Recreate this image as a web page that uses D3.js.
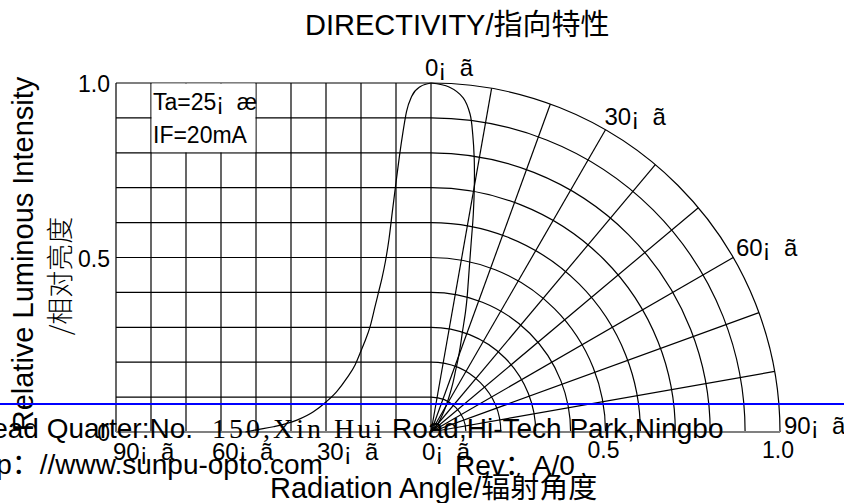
<!DOCTYPE html>
<html>
<head>
<meta charset="utf-8">
<script src="https://cdn.jsdelivr.net/npm/d3@7"></script>
<style>
  html, body { margin: 0; padding: 0; background: #fff; overflow: hidden; }
  svg { display: block; font-family: "Liberation Sans", Arial, "Noto Sans CJK SC", sans-serif; }
</style>
</head>
<body>
<svg id="chart" width="844" height="503"></svg>
<script>
// ---------------- data ----------------
const angleDeg  = [0, 3, 5.5, 7, 8, 9, 10, 11, 12, 13, 14, 15, 16, 17.4, 19, 20.3, 21.7, 24, 27, 30, 33.6, 38.3, 45, 50, 53];
const intensity = [1.0, 0.99, 0.962, 0.918, 0.86, 0.792, 0.715, 0.635, 0.553, 0.49, 0.441, 0.4, 0.359, 0.302, 0.257, 0.225, 0.192, 0.155, 0.115, 0.086, 0.058, 0.034, 0.015, 0.006, 0];
const gridAngles = [0, 10, 20, 30, 40, 50, 60, 70, 80, 90];
const gridRadii  = [0.1, 0.2, 0.3, 0.4, 0.5, 0.6, 0.7, 0.8, 0.9, 1.0];
const yTickValues = [0, 0.5, 1.0];
const yTickLabels = ["0", "0.5", "1.0"];
const rTickValues = [0.5, 1.0];
const rTickLabels = ["0.5", "1.0"];
const polarAngleLabels  = [0, 30, 60, 90];
const bottomAngleLabels = [90, 60, 30, 0];
const degSuffix = "¡\u00a0\u00a0ã";
const titleText = "DIRECTIVITY/指向特性";
const yTitleText = "Relative Luminous Intensity";
const yTitleCnText = "/相对亮度";
const xTitleText = "Radiation Angle/辐射角度";
const noteLines = ["Ta=25¡\u00a0\u00a0æ", "IF=20mA"];
const footerA = "Head Quarter:No.";
const footerB = "150,Xin Hui";
const footerC = "Road,Hi-Tech Park,Ningbo";
const footerD = "http：//www.sunpu-opto.com";
const footerE = "Rev：A/0";

const data = angleDeg.map((a, i) => ({ a: a, v: intensity[i] }));

// ---------------- layout ----------------
const svg = d3.select("#chart");
const ox = 431, oy = 432, R = 349;
const xA = d3.scaleLinear().domain([90, 0]).range([116, ox]);   // left linear angle axis
const yI = d3.scaleLinear().domain([0, 1]).range([oy, oy - R]);  // intensity axis
const rS = d3.scaleLinear().domain([0, 1]).range([0, R]);        // radial scale
const rad = d => d * Math.PI / 180;
const SW = 1.2;

const grid = svg.append("g").attr("fill", "none").attr("stroke", "#000").attr("stroke-width", SW);

// left rectangular grid: horizontal lines
grid.selectAll("line.h").data(gridRadii).join("line")
  .attr("x1", xA(90)).attr("x2", ox)
  .attr("y1", d => yI(d)).attr("y2", d => yI(d));
// vertical lines
grid.selectAll("line.v").data(gridAngles).join("line")
  .attr("x1", d => xA(d)).attr("x2", d => xA(d))
  .attr("y1", yI(0)).attr("y2", yI(1));

// polar arcs
grid.selectAll("path.arc").data(gridRadii).join("path")
  .attr("d", d => { const p = d3.path(); p.moveTo(ox, oy - rS(d)); p.arc(ox, oy, rS(d), -Math.PI / 2, 0, false); return p.toString(); });
// polar radial lines
grid.selectAll("line.r").data(gridAngles.filter(a => a > 0 && a < 90)).join("line")
  .attr("x1", ox).attr("y1", oy)
  .attr("x2", d => ox + rS(1) * Math.sin(rad(d)))
  .attr("y2", d => oy - rS(1) * Math.cos(rad(d)));

// baseline (gray)
svg.append("line").attr("x1", xA(90)).attr("x2", ox + rS(1)).attr("y1", oy).attr("y2", oy)
  .attr("stroke", "#808080").attr("stroke-width", 2);

// white note box over grid
svg.append("rect")
  .attr("x", xA(80) + 0.6).attr("y", yI(1) + 0.6)
  .attr("width", xA(50) - xA(80) - 1.2).attr("height", yI(0.8) - yI(1) - 1.2)
  .attr("fill", "#fff");

// curves
const leftLine = d3.line().x(d => xA(d.a)).y(d => yI(d.v)).curve(d3.curveMonotoneX);
svg.append("path").attr("d", leftLine(data.slice().reverse()))
  .attr("fill", "none").attr("stroke", "#000").attr("stroke-width", SW);

const polarLine = d3.lineRadial().angle(d => rad(d.a)).radius(d => rS(d.v)).curve(d3.curveCatmullRom);
svg.append("path").attr("transform", `translate(${ox},${oy})`).attr("d", polarLine(data))
  .attr("fill", "none").attr("stroke", "#000").attr("stroke-width", SW);

// ---------------- text ----------------
const T = svg.append("g").attr("fill", "#000");

T.append("text").attr("x", 305).attr("y", 35).attr("font-size", 29).text(titleText);

// y tick labels
T.selectAll("text.yt").data(yTickValues).join("text")
  .attr("x", 110).attr("y", d => yI(d) + 9).attr("text-anchor", "end").attr("font-size", 23)
  .text((d, i) => yTickLabels[i]);

// radial tick labels on bottom right
T.selectAll("text.rt").data(rTickValues).join("text")
  .attr("x", d => ox + rS(d) - 2).attr("y", 458).attr("text-anchor", "middle").attr("font-size", 23)
  .text((d, i) => rTickLabels[i]);

// bottom-left angle labels
T.selectAll("text.ba").data(bottomAngleLabels).join("text")
  .attr("x", d => xA(d) - 3 - Math.min(90 - d, 30) / 30 * 6).attr("y", 460).attr("font-size", 24)
  .text(d => d + degSuffix);

// polar angle labels
T.selectAll("text.pa").data(polarAngleLabels).join("text")
  .attr("x", d => ox + rS(1) * Math.sin(rad(d)) - 6 + 10 * Math.sin(rad(d)))
  .attr("y", d => oy - rS(1) * Math.cos(rad(d)) - 7 * Math.cos(rad(d)) + 2 * Math.sin(rad(d)))
  .attr("font-size", 24)
  .text(d => d + degSuffix);

// note
T.selectAll("text.note").data(noteLines).join("text")
  .attr("x", 153).attr("y", (d, i) => 110 + i * 33).attr("font-size", 23).text(d => d);

// y axis titles
T.append("text").attr("transform", "translate(33,254) rotate(-90)").attr("text-anchor", "middle")
  .attr("font-size", 29).text(yTitleText);
T.append("text").attr("transform", "translate(70,276) rotate(-90)").attr("text-anchor", "middle")
  .attr("font-size", 27).attr("font-family", "'Noto Sans CJK SC', sans-serif").attr("font-weight", 300)
  .text(yTitleCnText);

// x title
T.append("text").attr("x", 270).attr("y", 498).attr("font-size", 29).text(xTitleText);

// footer
T.append("text").attr("x", -28).attr("y", 438).attr("font-size", 28).text(footerA);
T.append("text").attr("x", 212).attr("y", 438).attr("font-size", 28)
  .attr("font-family", "'Liberation Serif', 'DejaVu Serif', serif")
  .attr("textLength", 170).attr("lengthAdjust", "spacing").text(footerB);
T.append("text").attr("x", 392).attr("y", 438).attr("font-size", 28).text(footerC);
T.append("text").attr("x", -35).attr("y", 474).attr("font-size", 28).text(footerD);
T.append("text").attr("x", 455).attr("y", 475).attr("font-size", 28).text(footerE);

// blue line across
svg.append("line").attr("x1", 0).attr("x2", 844).attr("y1", 404).attr("y2", 404)
  .attr("stroke", "#0000ff").attr("stroke-width", 2);
</script>
</body>
</html>
